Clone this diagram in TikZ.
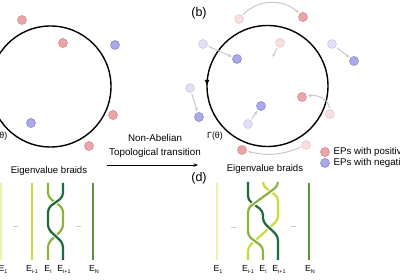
\documentclass[tikz,border=0pt]{standalone}
\usepackage{fontspec}
\setmainfont{Liberation Sans}
\usetikzlibrary{arrows.meta,decorations.markings}
\definecolor{epred}{HTML}{E9A5A8}
\definecolor{epredline}{HTML}{D98C90}
\definecolor{epblue}{HTML}{ABA9E8}
\definecolor{epblueline}{HTML}{8E8BD8}
\definecolor{movegray}{HTML}{C9C9C9}
\definecolor{sone}{HTML}{EEF2A6}
\definecolor{syellow}{HTML}{CBDA3A}
\definecolor{solive}{HTML}{8DB33F}
\definecolor{sdark}{HTML}{1D6B3B}
\definecolor{sN}{HTML}{5E8F3C}
\newcommand{\esub}[1]{E\raisebox{-2pt}{\fontsize{5.5}{6}\selectfont #1}}
\begin{document}
\begin{tikzpicture}[x=1pt,y=-1pt,
  ep/.style={circle,inner sep=0pt,minimum size=9pt,line width=0.6pt},
  posep/.style={ep,fill=epred,draw=epredline},
  negep/.style={ep,fill=epblue,draw=epblueline},
  ghost/.style={opacity=0.35},
  mv/.style={draw=movegray,line width=1pt,-{Stealth[length=3.5pt,width=3.2pt]},shorten >=1.2pt,shorten <=1.2pt},
  strand/.style={line width=2.2pt,rounded corners=4pt},
  halo/.style={preaction={draw=white,line width=4.2pt}},
  dotsep/.style={draw=movegray,line width=0.8pt},
  lbl/.style={font=\fontsize{9.6}{11}\selectfont,inner sep=0pt},
  elbl/.style={font=\fontsize{8.8}{10}\selectfont,inner sep=0pt},
  panel/.style={font=\fontsize{12.5}{14}\selectfont,inner sep=0pt}]
\useasboundingbox (0,0) rectangle (400,280);
\clip (0,0) rectangle (400,280);
\fill[white] (0,0) rectangle (400,280);

% ---------- left circle ----------
\draw[line width=1.4pt] (50.5,86.5) circle[radius=60.5pt];
\node[elbl] (ga) at (-0.5,136) {Γ(θ)};
\node[posep] (la) at (22,20) {};
\node[posep] (lb) at (63,43) {};
\node[negep] (lc) at (115,45) {};
\node[posep] (ld) at (113,115) {};
\node[negep] (le) at (31,123) {};
\node[posep] (lf) at (89,146) {};

% ---------- right circle ----------
\draw[line width=1.4pt,postaction={decorate},
  decoration={markings,mark=at position 0.25 with {\arrow{Latex[length=6pt,width=5pt]}}}]
  (267.5,86) ++(0pt,60.5pt) arc[start angle=90,end angle=450,radius=60.5pt];
\node[elbl] (gb) at (215,136) {Γ(θ)};
\node[panel] (pb) at (199,13) {(b)};

\node[posep,ghost] (f1) at (239,19) {};
\node[posep] (s1) at (303,17) {};
\node[negep,ghost] (f2) at (203,44) {};
\node[negep] (s2) at (237,59) {};
\node[posep,ghost] (f3) at (280,43) {};
\coordinate (e3) at (272,58);
\node[negep,ghost] (f4) at (332,44) {};
\node[negep] (s4) at (354,61) {};
\node[negep,ghost] (f5) at (190,88) {};
\node[negep] (s5) at (199,117) {};
\node[posep,ghost] (f6) at (330,114) {};
\node[posep] (s6) at (302,97) {};
\node[negep,ghost] (f7) at (248,124) {};
\node[negep] (s7) at (261,106) {};
\node[posep,ghost] (f8) at (306,145) {};
\node[posep] (s8) at (242,150) {};

\draw[mv] (f1) to[bend left=45] (s1);
\draw[mv] (f2) -- (s2);
\draw[mv] (f3) -- (e3);
\draw[mv] (f4) -- (s4);
\draw[mv] (f5) -- (s5);
\draw[mv] (f6) to[out=95,in=10] (s6);
\draw[mv] (f7) -- (s7);
\draw[mv] (f8) to[bend left=18] (s8);

% ---------- legend ----------
\node[posep] (kp) at (325,152) {};
\node[negep] (kn) at (325,163) {};
\node[lbl,anchor=west,font=\fontsize{9.7}{10}\selectfont] (tp) at (333.5,152) {EPs with positive charge};
\node[lbl,anchor=west,font=\fontsize{9.7}{10}\selectfont] (tn) at (333.5,163) {EPs with negative charge};

% ---------- transition arrow ----------
\node[lbl,align=center,font=\fontsize{9.8}{14}\selectfont] (tr) at (155,146) {Non-Abelian\\Topological transition};
\coordinate (ta) at (107,165);
\coordinate (tb) at (198,165);
\draw[line width=0.8pt,-{Stealth[length=4.5pt,width=3.5pt]}] (ta) -- (tb);
\node[panel] (pd) at (199,178) {(d)};

% ---------- labels ----------
\node[lbl] (eba) at (49,171) {Eigenvalue braids};
\node[lbl] (ebb) at (265,169) {Eigenvalue braids};

% ---------- left braid ----------
\draw[strand,sone] (1,183) -- (1,260);
\draw[dotsep] (12.5,226) -- (17.5,226);
\draw[strand,syellow] (32,183) -- (32,260);
\draw[strand,solive] (48,183) -- (48,197) -- (63,208) -- (63,229) -- (48,243) -- (48,260);
\draw[strand,sdark,halo] (63,183) -- (63,197) -- (48,208) -- (48,229) -- (63,243) -- (63,260);
\draw[dotsep] (75.5,226) -- (80.5,226);
\draw[strand,sN] (93,183) -- (93,260);
\node[elbl] (l1) at (3,269) {\esub{1}};
\node[elbl] (l2) at (32,269) {\esub{i-1}};
\node[elbl] (l3) at (48,269) {\esub{i}};
\node[elbl] (l4) at (64,269) {\esub{i+1}};
\node[elbl] (l5) at (94,269) {\esub{N}};

% ---------- right braid ----------
\draw[strand,sone] (217,183) -- (217,260);
\draw[dotsep] (230.5,227) -- (235.5,227);
\draw[strand,syellow] (263,182) -- (263,186) -- (278,197) -- (278,220) -- (248,247) -- (248,260);
\draw[strand,sdark,halo] (248,182) -- (248,200) -- (263,211) -- (263,222) -- (278,236) -- (278,260);
\draw[strand,solive,halo] (278,182) -- (278,186) -- (248,208) -- (248,236) -- (263,247) -- (263,260);
\draw[dotsep] (290.5,226) -- (295.5,226);
\draw[strand,sN] (309,183) -- (309,260);
\node[elbl] (r1) at (218,269) {\esub{1}};
\node[elbl] (r2) at (248,269) {\esub{i-1}};
\node[elbl] (r3) at (263,269) {\esub{i}};
\node[elbl] (r4) at (279,269) {\esub{i+1}};
\node[elbl] (r5) at (310,269) {\esub{N}};
\end{tikzpicture}
\end{document}
